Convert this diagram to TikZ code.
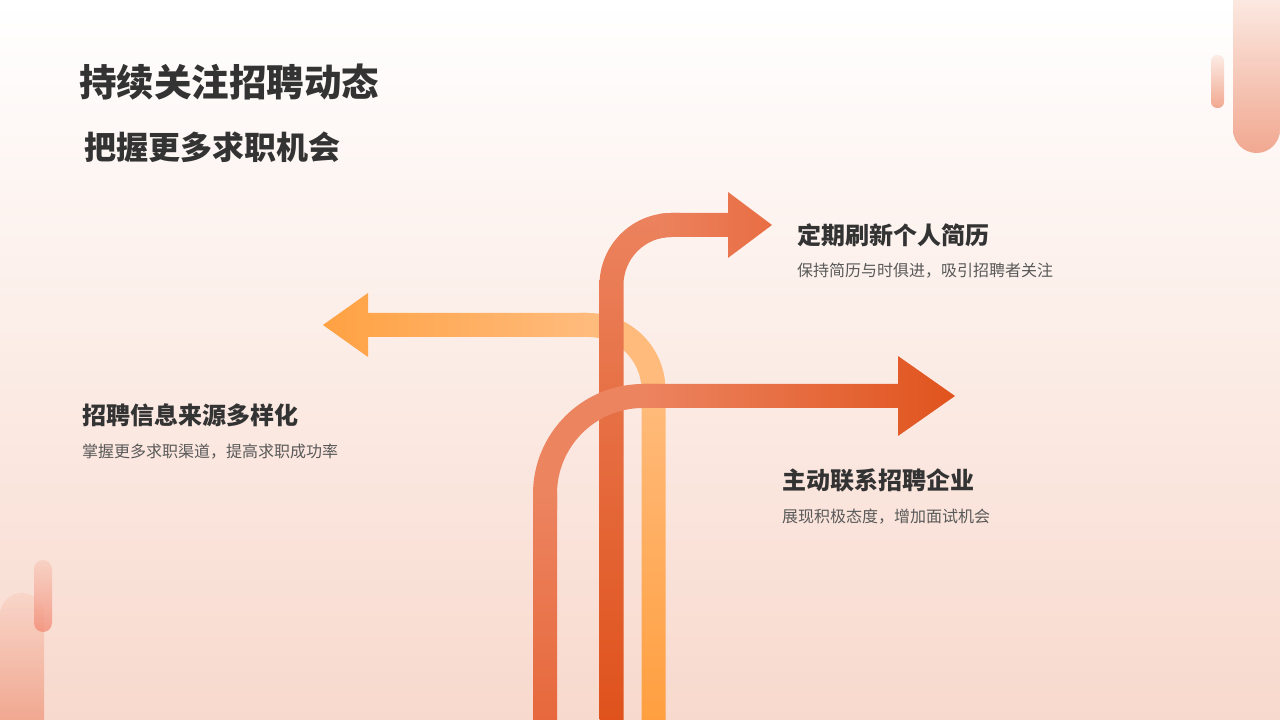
\documentclass[tikz,border=0pt]{standalone}
\usepackage{fontspec}
\setmainfont{Noto Sans CJK SC}
\definecolor{bgtop}{HTML}{FFFFFF}
\definecolor{bgbot}{HTML}{F8D9CD}
\definecolor{aonecorner}{HTML}{EC8460}
\definecolor{aonedark}{HTML}{DF521C}
\definecolor{aonehead}{HTML}{E86C42}
\definecolor{atwocorner}{HTML}{FFBB7C}
\definecolor{atwohead}{HTML}{FFA142}
\definecolor{atwodark}{HTML}{FF9F40}
\definecolor{athreecorner}{HTML}{EC8460}
\definecolor{athreedark}{HTML}{E7683C}
\definecolor{athreehead}{HTML}{E0531C}
\definecolor{txtdark}{HTML}{333333}
\definecolor{txtgray}{HTML}{595959}
\definecolor{decolight}{HTML}{FCEBE4}
\definecolor{decodark}{HTML}{F0A086}
\tikzset{
  headtxt/.style={anchor=west,inner sep=0pt,text=txtdark,font=\bfseries\fontsize{24}{28}\selectfont},
  desctxt/.style={anchor=west,inner sep=0pt,text=txtgray,font=\fontsize{16}{19}\selectfont},
}
\begin{document}
\begin{tikzpicture}[x=1pt,y=1pt]
\useasboundingbox (0,0) rectangle (1280,720);
\clip (0,0) rectangle (1280,720);
% background
\shade[top color=bgtop, bottom color=bgbot] (0,0) rectangle (1280,720);

% decorations top right
\shade[top color=decolight, bottom color=decodark, opacity=0.9]
  (1233,730) -- (1233,590.5) arc[start angle=180,end angle=360,radius=23.5] -- (1280,730) -- cycle;
\shade[top color=decolight, bottom color=decodark, opacity=0.9, rounded corners=6]
  (1211,612) rectangle (1224,665);
% decorations bottom left
\shade[top color=decolight!70!decodark, bottom color=decodark, opacity=0.9]
  (0,-10) -- (0,105) arc[start angle=180,end angle=0,radius=22] -- (44,-10) -- cycle;
\shade[top color=decolight!60!decodark, bottom color=decodark!85!red, opacity=0.75, rounded corners=9]
  (34,88) rectangle (52,160);

% arrow 2 (left)
\begin{scope}
\clip (641.5,0) -- (641.5,330) arc[start angle=0,end angle=90,radius=53] -- (368,383) -- (368,363) -- (323,395) -- (368,427) -- (368,407) -- (588.5,407) arc[start angle=90,end angle=0,radius=77] -- (665.5,0) -- cycle;
\fill[atwocorner] (580,320) rectangle (680,420);
\shade[left color=atwohead, right color=atwocorner] (320,350) rectangle (588.5,440);
\shade[top color=atwocorner, bottom color=atwodark] (630,0) rectangle (680,330);
\end{scope}

% arrow 1 (up-right)
\begin{scope}
\clip (599.5,0) -- (599.5,435) arc[start angle=180,end angle=90,radius=72] -- (728,507) -- (728,528) -- (772,495) -- (728,462) -- (728,483) -- (671.5,483) arc[start angle=90,end angle=180,radius=48] -- (623.5,0) -- cycle;
\shade[top color=aonecorner, bottom color=aonedark] (590,0) rectangle (680,520);
\shade[left color=aonecorner!96!aonedark, right color=aonehead] (660,450) rectangle (780,540);
\end{scope}

% arrow 3 (right)
\begin{scope}
\clip (533,0) -- (533,226) arc[start angle=180,end angle=90,radius=110] -- (898,336) -- (898,364) -- (955,324) -- (898,284) -- (898,312) -- (643,312) arc[start angle=90,end angle=180,radius=86] -- (557,226) -- (557,0) -- cycle;
\fill[athreecorner] (520,210) rectangle (660,350);
\shade[top color=athreecorner, bottom color=athreedark] (520,0) rectangle (570,226);
\shade[left color=athreecorner, right color=athreehead] (643,270) rectangle (960,370);
\end{scope}

% texts
\node[anchor=west,inner sep=0pt,text=txtdark,font=\bfseries\fontsize{37.5}{42}\selectfont] (title) at (79,638) {持续关注招聘动态};
\node[anchor=west,inner sep=0pt,text=txtdark,font=\bfseries\fontsize{32}{36}\selectfont] (subtitle) at (84,573) {把握更多求职机会};

\node[headtxt] (h1) at (797,485) {定期刷新个人简历};
\node[desctxt] (d1) at (797,449) {保持简历与时俱进，吸引招聘者关注};

\node[headtxt] (h2) at (82,305) {招聘信息来源多样化};
\node[desctxt] (d2) at (82,268) {掌握更多求职渠道，提高求职成功率};

\node[headtxt] (h3) at (782,240) {主动联系招聘企业};
\node[desctxt] (d3) at (782,203) {展现积极态度，增加面试机会};
\end{tikzpicture}
\end{document}
